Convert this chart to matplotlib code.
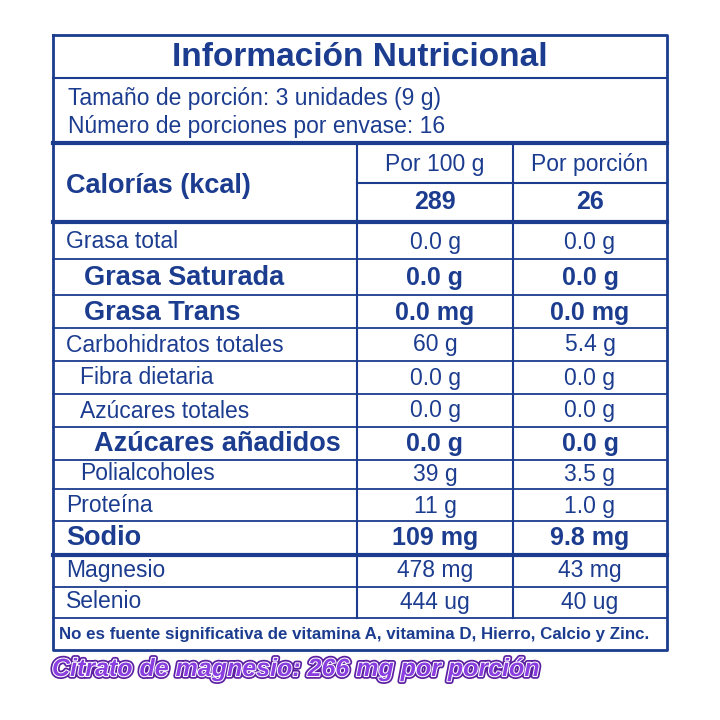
import matplotlib
matplotlib.use("Agg")
import matplotlib.pyplot as plt
import matplotlib.patheffects as pe

plt.rcParams['font.family'] = ['Liberation Sans', 'DejaVu Sans']
C = '#1b3c8f'

title = "Información Nutricional"
serving = ["Tamaño de porción: 3 unidades (9 g)", "Número de porciones por envase: 16"]
col_heads = ["Por 100 g", "Por porción"]
calories = ["289", "26"]
names = ["Grasa total", "Grasa Saturada", "Grasa Trans", "Carbohidratos totales", "Fibra dietaria",
         "Azúcares totales", "Azúcares añadidos", "Polialcoholes", "Proteína", "Sodio", "Magnesio", "Selenio"]
per100 = ["0.0 g", "0.0 g", "0.0 mg", "60 g", "0.0 g", "0.0 g", "0.0 g", "39 g", "11 g", "109 mg", "478 mg", "444 ug"]
perserv = ["0.0 g", "0.0 g", "0.0 mg", "5.4 g", "0.0 g", "0.0 g", "0.0 g", "3.5 g", "1.0 g", "9.8 mg", "43 mg", "40 ug"]
bold = [False, True, True, False, False, False, True, False, False, True, False, False]
indent = [0, 18, 18, 0, 14, 14, 28, 14, 0, 0, 0, 0]
footnote = "No es fuente significativa de vitamina A, vitamina D, Hierro, Calcio y Zinc."
extra = "Citrato de magnesio: 266 mg por porción"

row_centers = [242, 278, 313, 345, 378, 411, 444, 474, 506, 538, 571, 602]
row_lines = [259, 295, 328, 361, 394, 427, 460, 489, 521, 555, 587, 618]
thick = {555}

fig = plt.figure(figsize=(7.2, 7.2), dpi=100)
ax = fig.add_axes([0, 0, 1, 1])
ax.set_xlim(0, 720); ax.set_ylim(720, 0); ax.axis('off')

L, R, T, B = 53, 667, 35, 650
ax.plot([L, R, R, L, L], [T, T, B, B, T], color=C, lw=2)
ax.plot([L, R], [78, 78], color=C, lw=1.5)
ax.plot([L, R], [143, 143], color=C, lw=3)
ax.plot([L, R], [222, 222], color=C, lw=3)
ax.plot([357, R], [183, 183], color=C, lw=1.5)
for x in (357, 513):
    ax.plot([x, x], [143, 618], color=C, lw=1.5)
for y in row_lines:
    ax.plot([L, R], [y, y], color=C, lw=3 if y in thick else 1.3)

ax.text(360, 58, title, color=C, fontsize=24, fontweight='bold', ha='center', va='center')
ax.text(68, 98, serving[0], color=C, fontsize=16.5, va='center')
ax.text(68, 126, serving[1], color=C, fontsize=16.5, va='center')
ax.text(66, 186, "Calorías (kcal)", color=C, fontsize=19.5, fontweight='bold', va='center')
for i, x in enumerate((435, 590)):
    ax.text(x, 164, col_heads[i], color=C, fontsize=16.5, ha='center', va='center')
    ax.text(x, 202, calories[i], color=C, fontsize=18, fontweight='bold', ha='center', va='center')
for i, n in enumerate(names):
    fs = 19.5 if bold[i] else 16.5
    fw = 'bold' if bold[i] else 'normal'
    ax.text(66 + indent[i], row_centers[i], n, color=C, fontsize=fs, fontweight=fw, va='center')
    ax.text(435, row_centers[i], per100[i], color=C, fontsize=18 if bold[i] else 16.5, fontweight=fw, ha='center', va='center')
    ax.text(590, row_centers[i], perserv[i], color=C, fontsize=18 if bold[i] else 16.5, fontweight=fw, ha='center', va='center')
ax.text(59, 634, footnote, color=C, fontsize=12.2, fontweight='bold', va='center')
t = ax.text(52, 669, extra, color='#8a3ee0', fontsize=18, fontweight='bold', style='italic', va='center')
t.set_path_effects([pe.Stroke(linewidth=4, foreground='#5b1fa0'),
                    pe.Stroke(linewidth=1.5, foreground='white'), pe.Normal()])
fig.savefig("out.png", dpi=100)
